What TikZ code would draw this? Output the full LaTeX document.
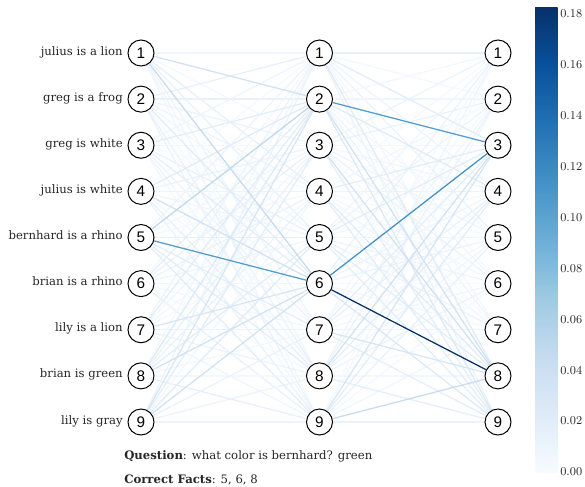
\documentclass[tikz,border=0pt]{standalone}
\usepackage{fontspec}
\setmainfont{DejaVu Serif}
\newfontfamily\numfont{Liberation Sans}
\pgfdeclarelayer{bg}
\pgfsetlayers{bg,main}
\definecolor{bl0}{HTML}{F7FBFF}
\definecolor{bl1}{HTML}{DEEBF7}
\definecolor{bl2}{HTML}{C6DBEF}
\definecolor{bl3}{HTML}{9ECAE1}
\definecolor{bl4}{HTML}{6BAED6}
\definecolor{bl5}{HTML}{4292C6}
\definecolor{bl6}{HTML}{2171B5}
\definecolor{bl7}{HTML}{08519C}
\definecolor{bl8}{HTML}{08306B}
\definecolor{txt}{HTML}{262626}
\newcommand\setblue[2]{%
  \pgfmathsetmacro\myt{min(max(#2/0.1827,0),0.99999)*8}%
  \pgfmathtruncatemacro\myseg{\myt}%
  \pgfmathtruncatemacro\mysegb{\myseg+1}%
  \pgfmathsetmacro\myfr{(\myt-\myseg)*100}%
  \colorlet{#1}{bl\mysegb!\myfr!bl\myseg}}
\pgfdeclareverticalshading{bluesbar}{100bp}{color(0bp)=(bl0); color(25bp)=(bl0);
  color(31.25bp)=(bl1); color(37.5bp)=(bl2); color(43.75bp)=(bl3); color(50bp)=(bl4);
  color(56.25bp)=(bl5); color(62.5bp)=(bl6); color(68.75bp)=(bl7); color(75bp)=(bl8); color(100bp)=(bl8)}
\begin{document}
\begin{tikzpicture}[x=0.75pt,y=-0.75pt,
  nd/.style={circle,draw=black,fill=white,line width=0.75pt,minimum size=19.5pt,inner sep=0pt,
    font=\numfont\fontsize{11.5}{13}\selectfont},
  lab/.style={anchor=base east,inner sep=0pt,text=txt,font=\fontsize{8.75}{10}\selectfont},
  info/.style={anchor=base west,inner sep=0pt,text=txt,font=\fontsize{8.75}{10}\selectfont},
  tick/.style={anchor=west,inner sep=0pt,text=txt,font=\numfont\fontsize{8.6}{10}\selectfont},
  edge/.style={line width=0.95pt}]
\useasboundingbox (0,0) rectangle (585,486);
% nodes
\foreach \i in {1,...,9}{
  \pgfmathsetmacro\yy{53+(\i-1)*46.125}
  \node[nd] (a\i) at (141,\yy) {\i};
  \node[nd] (b\i) at (319.5,\yy) {\i};
  \node[nd] (c\i) at (498,\yy) {\i};
}
\foreach \i/\t in {1/julius is a lion,2/greg is a frog,3/greg is white,4/julius is white,
  5/bernhard is a rhino,6/brian is a rhino,7/lily is a lion,8/brian is green,9/lily is gray}{
  \pgfmathsetmacro\yy{53+(\i-1)*46.125+2}
  \node[lab] (l\i) at (123,\yy) {\t};
}
\node[info] (q) at (124,459) {\textbf{Question}: what color is bernhard? green};
\node[info] (f) at (124,483) {\textbf{Correct Facts}: 5, 6, 8};
% colorbar
\coordinate (cbl) at (535,472);
\coordinate (cbu) at (557.5,7);
\shade[shading=bluesbar] (cbl) rectangle (cbu);
\foreach \k in {0,...,9}{
  \pgfmathsetmacro\yy{472-\k*50.9}
  \pgfmathsetmacro\lv{\k*0.02}
  \node[tick] (t\k) at (560,\yy) {\pgfmathprintnumber[fixed,fixed zerofill,precision=2]{\lv}};
}
% override lists (ascending weight)
\def\ovA{4/8/0.015,3/6/0.018,6/2/0.018,5/7/0.018,3/2/0.02,7/2/0.02,2/6/0.02,9/3/0.02,5/8/0.02,5/9/0.02,4/2/0.022,9/5/0.022,8/5/0.02,8/2/0.025,7/6/0.03,9/2/0.03,1/2/0.035,4/6/0.035,8/6/0.035,9/6/0.035,1/6/0.045,5/2/0.05,5/6/0.105}
\def\ovB{8/9/0.018,7/3/0.018,3/9/0.018,7/9/0.018,5/9/0.018,8/4/0.018,1/3/0.02,4/3/0.02,5/3/0.02,5/8/0.02,4/9/0.02,9/4/0.02,1/8/0.022,4/8/0.022,2/4/0.022,2/9/0.025,6/9/0.025,7/8/0.03,9/3/0.03,2/8/0.035,3/8/0.035,8/3/0.035,9/8/0.045,2/3/0.105,6/3/0.115,6/8/0.182}
\foreach \i/\j/\w in \ovA {\expandafter\xdef\csname ovA-\i-\j\endcsname{1}}
\foreach \i/\j/\w in \ovB {\expandafter\xdef\csname ovB-\i-\j\endcsname{1}}
\begin{pgfonlayer}{bg}
\foreach \i in {1,...,9}{\foreach \j in {1,...,9}{%
  \ifcsname ovA-\i-\j\endcsname\else
    \pgfmathsetmacro\w{0.003+0.012*mod(\i*7+\j*11,13)/12}%
    \setblue{ec}{\w}%
    \draw[edge,ec] (a\i) -- (b\j);
  \fi
  \ifcsname ovB-\i-\j\endcsname\else
    \pgfmathsetmacro\w{0.002+0.011*mod(\i*5+\j*3+4,13)/12}%
    \setblue{ec}{\w}%
    \draw[edge,ec] (b\i) -- (c\j);
  \fi
}}
\foreach \i/\j/\w in \ovA {\setblue{ec}{\w}\draw[edge,ec] (a\i) -- (b\j);}
\foreach \i/\j/\w in \ovB {\setblue{ec}{\w}\draw[edge,ec] (b\i) -- (c\j);}
\end{pgfonlayer}
\end{tikzpicture}
\end{document}
